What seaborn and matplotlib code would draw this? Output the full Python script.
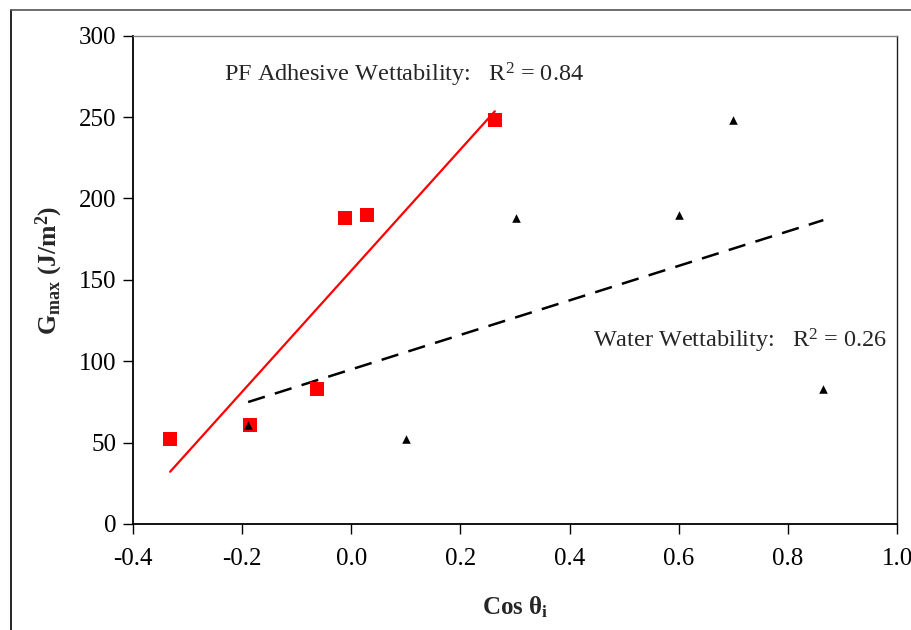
import numpy as np
import pandas as pd
import matplotlib
matplotlib.use("Agg")
import matplotlib.pyplot as plt
from matplotlib.lines import Line2D
import seaborn as sns

# Maximum fracture energy against the cosine of the contact angle
gmax = [52, 61, 83, 188, 190, 248]
cos_pf = [-0.332, -0.186, -0.063, -0.012, 0.029, 0.263]
cos_water = [0.100, -0.189, 0.865, 0.302, 0.600, 0.700]

x_ticks = [-0.4, -0.2, 0.0, 0.2, 0.4, 0.6, 0.8, 1.0]
y_ticks = [0, 50, 100, 150, 200, 250, 300]

pf = pd.DataFrame({"cos": cos_pf, "gmax": gmax})
water = pd.DataFrame({"cos": cos_water, "gmax": gmax})

sns.set_theme(style="white")
plt.rcParams["font.family"] = ["Liberation Serif", "DejaVu Serif"]
plt.rcParams["mathtext.fontset"] = "custom"
plt.rcParams["mathtext.rm"] = "Liberation Serif"
plt.rcParams["mathtext.it"] = "Liberation Serif:italic"
plt.rcParams["mathtext.bf"] = "Liberation Serif:bold"

fig = plt.figure(figsize=(9.12, 6.30), dpi=100)
ax = fig.add_axes([133 / 912, 1 - 524 / 630, (897 - 133) / 912, (524 - 35.7) / 630])

# Trend lines over each data range
sns.regplot(data=pf, x="cos", y="gmax", ax=ax, scatter=False, ci=None,
            truncate=True, line_kws=dict(color="#ff0000", lw=1.6, zorder=2))
sns.regplot(data=water, x="cos", y="gmax", ax=ax, scatter=False, ci=None,
            truncate=True, line_kws=dict(color="black", lw=1.8,
                                          dashes=(7, 4.2), zorder=2))

sns.scatterplot(data=pf, x="cos", y="gmax", ax=ax, marker="s", s=115,
                color="#ff0000", edgecolor="#ff0000", linewidth=0, zorder=3)
sns.scatterplot(data=water, x="cos", y="gmax", ax=ax, marker="^", s=38,
                color="black", edgecolor="black", linewidth=0, zorder=4)

ax.set_xlim(-0.4, 1.0)
ax.set_ylim(0, 300)
ax.set_xticks(x_ticks)
ax.set_yticks(y_ticks)
ax.set_xticklabels([f"{v:.1f}" for v in x_ticks])
ax.set_yticklabels([str(v) for v in y_ticks])
ax.tick_params(axis="both", direction="out", length=7, width=1,
               color="black", labelsize=18, labelcolor="black",
               bottom=True, left=True, pad=5)
ax.tick_params(axis="x", pad=10)

for side in ["left", "bottom"]:
    ax.spines[side].set_color("black")
    ax.spines[side].set_linewidth(1.3)
ax.spines["top"].set_color("#808080")
ax.spines["top"].set_linewidth(1.0)
ax.spines["right"].set_color("#202020")
ax.spines["right"].set_linewidth(1.0)

ax.set_xlabel(r"$\mathbf{Cos\ \theta_i}$", fontsize=18, labelpad=18)
ax.set_ylabel(r"$\mathbf{G_{max}\ (J/m^2)}$", fontsize=18.5, labelpad=10)
ax.yaxis.label.set_y(0.52)

ax.text(-0.233, 276, r"PF Adhesive Wettability:   R$^2$ = 0.84",
        fontsize=17.5, va="center", ha="left")
ax.text(0.443, 112.5, r"Water Wettability:   R$^2$ = 0.26",
        fontsize=17.5, va="center", ha="left")

# Outer chart frame
fig.add_artist(Line2D([11.5 / 912, 11.5 / 912], [0, 1 - 10 / 630],
                      transform=fig.transFigure, color="black", lw=1.2))
fig.add_artist(Line2D([11.5 / 912, 1], [1 - 10 / 630, 1 - 10 / 630],
                      transform=fig.transFigure, color="#555555", lw=1.2))

fig.savefig("out.png", dpi=100)
